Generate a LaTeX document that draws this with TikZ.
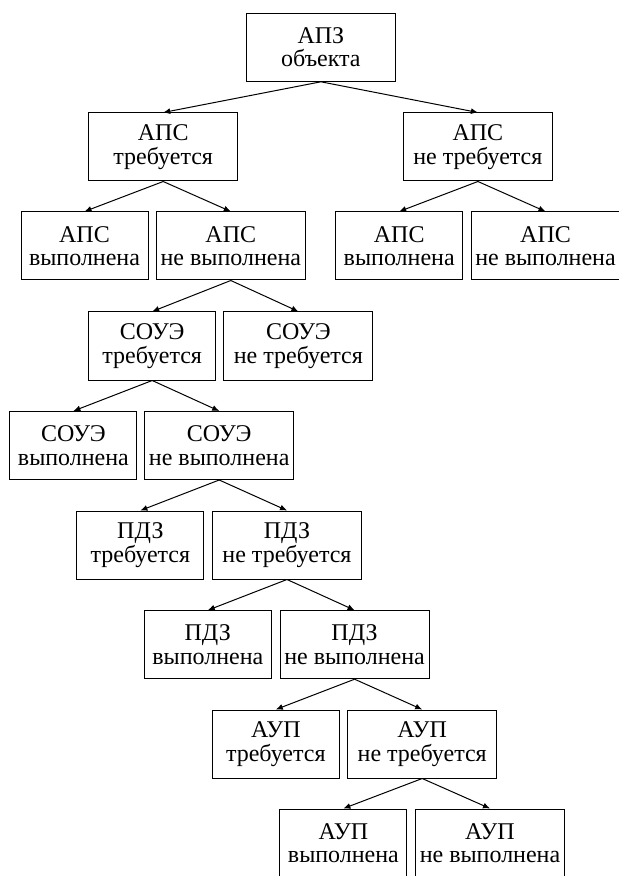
\documentclass[tikz,border=0pt]{standalone}
\usepackage{fontspec}
\setmainfont{Liberation Serif}
\usetikzlibrary{arrows.meta}
\tikzset{
    box/.style={draw, rectangle, line width=0.5pt, inner sep=0pt, minimum height=34pt,
        align=center, font=\fontsize{12pt}{11.8pt}\selectfont},
    narrow/.style={box, minimum width=63.5pt},
    wide/.style={box, minimum width=74.5pt},
    arr/.style={-{Latex[length=3.5pt,width=3pt]}, line width=0.5pt}
}

\begin{document}
\begin{tikzpicture}[x=0.5pt, y=-0.5pt]
    \useasboundingbox (0,0) rectangle (618,876);
    % top
    \node[wide] (apz) at (320.9,47.3) {АПЗ\\объекта};
    % fire alarm
    \node[wide] (aps) at (163.2,147) {АПС\\требуется};
    \node[wide] (apsno) at (477.9,147) {АПС\\не требуется};
    \node[narrow] (apsdone) at (84.5,246) {АПС\\выполнена};
    \node[wide] (apsfail) at (230.8,246) {АПС\\не выполнена};
    \node[narrow] (apsnodone) at (399.2,246) {АПС\\выполнена};
    \node[wide] (apsnofail) at (545.5,246) {АПС\\не выполнена};
    % warning system
    \node[narrow] (soue) at (152.2,346) {СОУЭ\\требуется};
    \node[wide] (soueno) at (298.4,346) {СОУЭ\\не требуется};
    \node[narrow] (souedone) at (73.4,445.5) {СОУЭ\\выполнена};
    \node[wide] (souefail) at (219.2,445.5) {СОУЭ\\не выполнена};
    % smoke protection
    \node[narrow] (pdz) at (140.4,545) {ПДЗ\\требуется};
    \node[wide] (pdzno) at (287,545) {ПДЗ\\не требуется};
    \node[narrow] (pdzdone) at (207.8,644.7) {ПДЗ\\выполнена};
    \node[wide] (pdzfail) at (354.6,644.7) {ПДЗ\\не выполнена};
    % extinguishing
    \node[narrow] (aup) at (275.8,744) {АУП\\требуется};
    \node[wide] (aupno) at (422.2,744) {АУП\\не требуется};
    \node[narrow] (aupdone) at (343.4,843) {АУП\\выполнена};
    \node[wide] (aupfail) at (490,843) {АУП\\не выполнена};

    \foreach \p/\c in {apz/aps, apz/apsno, aps/apsdone, aps/apsfail,
        apsno/apsnodone, apsno/apsnofail, apsfail/soue, apsfail/soueno,
        soue/souedone, soue/souefail, souefail/pdz, souefail/pdzno,
        pdzno/pdzdone, pdzno/pdzfail, pdzfail/aup, pdzfail/aupno,
        aupno/aupdone, aupno/aupfail}
        \draw[arr] (\p.south) -- (\c.north);
\end{tikzpicture}
\end{document}
